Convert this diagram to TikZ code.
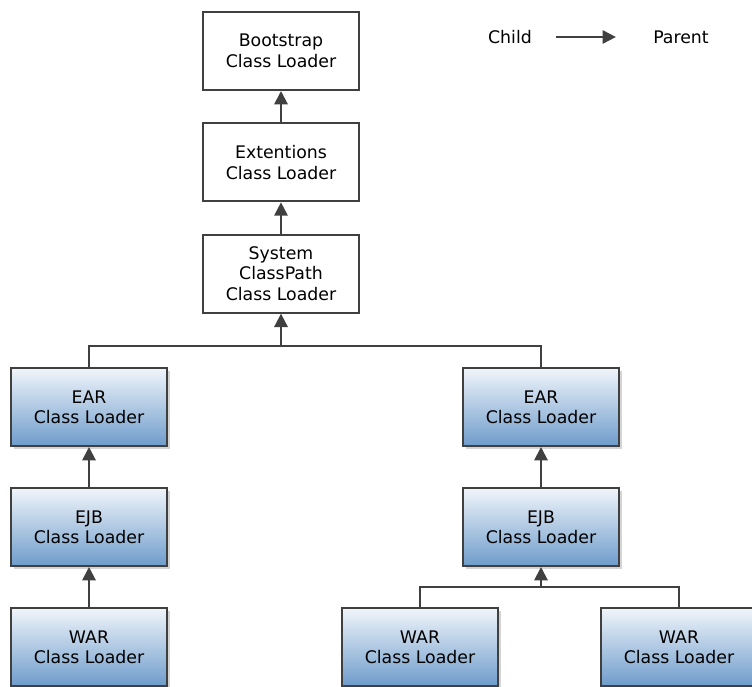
\documentclass[tikz,border=0pt]{standalone}
\usepackage{fontspec}
\setmainfont{DejaVu Sans}
\usepackage{xcolor}
\usepackage{tikz}
\usetikzlibrary{arrows.meta,shadows,positioning}

\definecolor{edgegray}{HTML}{404040}
\definecolor{shadegray}{HTML}{D4D4D4}
\definecolor{topblue}{HTML}{F1F5FA}
\definecolor{botblue}{HTML}{6E9CCB}

\begin{document}
\begin{tikzpicture}[
  x=0.75pt, y=-0.75pt,
  node distance=23.5pt,
  loader/.style={rectangle, draw=edgegray, line width=1.5pt, fill=white, minimum height=58.5pt, minimum width=117pt, align=center, font=\fontsize{13}{15.3}\selectfont},
  jeeloader/.style={loader, top color=topblue, bottom color=botblue, drop shadow={shadow xshift=2.2pt, shadow yshift=-2.2pt, fill=shadegray, opacity=1}},
  arrow/.style={-{Triangle[length=10pt, width=10pt]}, draw=edgegray, fill=edgegray, line width=1.5pt},
  link/.style={draw=edgegray, line width=1.5pt},
  legend/.style={font=\fontsize{13}{15.3}\selectfont}
]
\useasboundingbox (0,0) rectangle (752,686);

% JVM class loaders (top chain)
\node[loader] (boot) at (281,51) {Bootstrap\\Class Loader};
\node[loader, below=of boot] (ext) {Extentions\\Class Loader};
\node[loader, below=of ext] (sys) {System\\ClassPath\\Class Loader};
\coordinate[below=24pt of sys.south] (split);

% Application 1
\node[jeeloader] (earA) at (89,407) {EAR\\Class Loader};
\node[jeeloader, below=30pt of earA] (ejbA) {EJB\\Class Loader};
\node[jeeloader, below=30pt of ejbA] (warA) {WAR\\Class Loader};

% Application 2
\node[jeeloader] (earB) at (541,407) {EAR\\Class Loader};
\node[jeeloader, below=30pt of earB] (ejbB) {EJB\\Class Loader};
\node[jeeloader] (warB) at (420,647) {WAR\\Class Loader};
\node[jeeloader] (warC) at (679,647) {WAR\\Class Loader};
\coordinate[below=15pt of ejbB.south] (splitB);

% Legend
\node[legend] (child) at (510,37) {Child};
\node[legend] (parent) at (681,37) {Parent};

% Parent arrows
\draw[arrow] (ext) -- (boot);
\draw[arrow] (sys) -- (ext);
\draw[link] (earA.north) |- (split) -| (earB.north);
\draw[arrow] (split) -- (sys.south);
\draw[arrow] (ejbA) -- (earA);
\draw[arrow] (warA) -- (ejbA);
\draw[arrow] (ejbB) -- (earB);
\draw[link] (warB.north) |- (splitB) -| (warC.north);
\draw[arrow] (splitB) -- (ejbB.south);
\draw[arrow] ([xshift=14.5pt]child.east) -- ([xshift=-24.5pt]parent.west);

\end{tikzpicture}
\end{document}
